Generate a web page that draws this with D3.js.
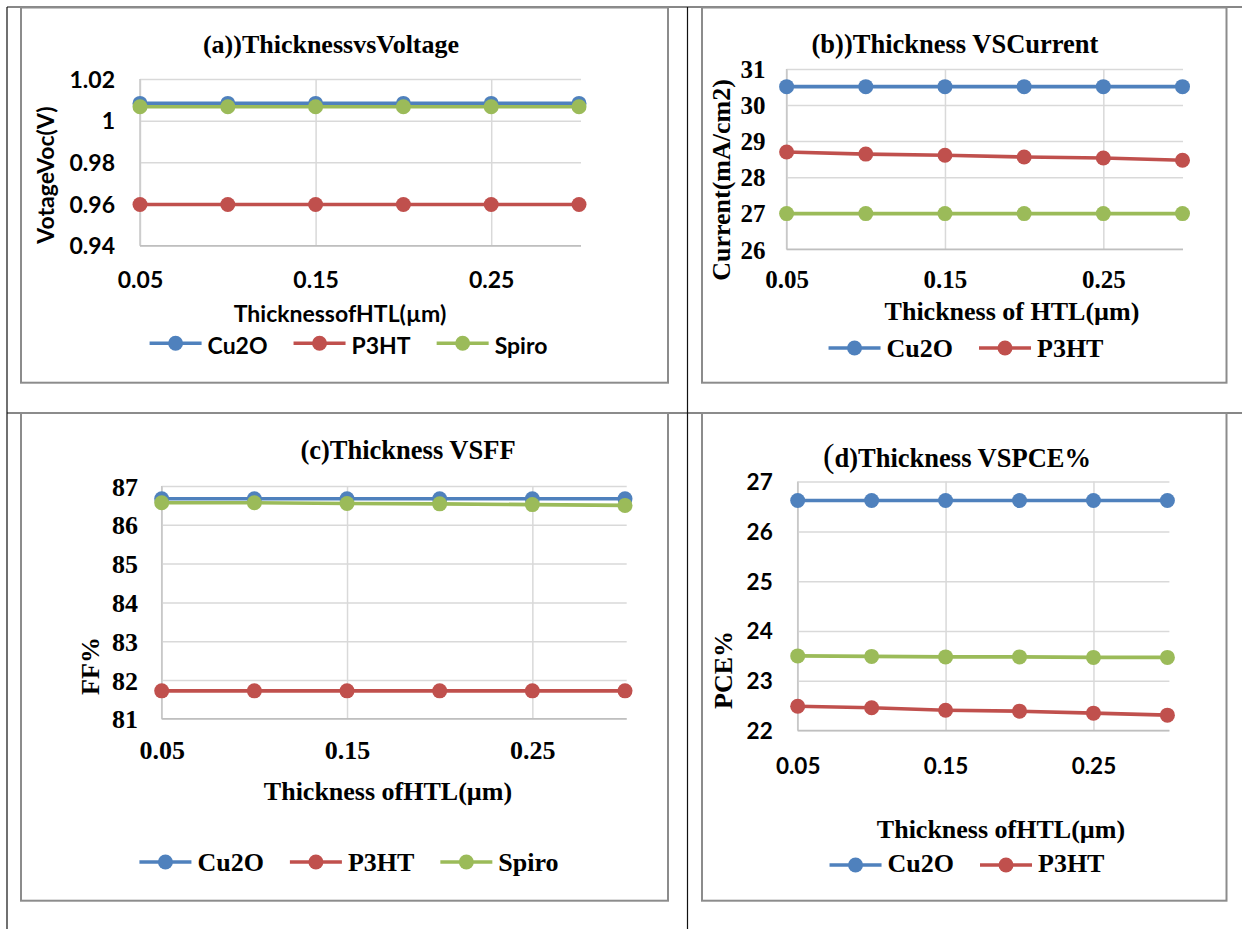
<!DOCTYPE html>
<html>
<head>
<meta charset="utf-8">
<script src="https://cdn.jsdelivr.net/npm/d3@7"></script>
<style>
  body { margin: 0; background: #fff; }
  svg { display: block; }
</style>
</head>
<body>
<svg id="fig" width="1242" height="929"></svg>
<script>
// ---- data ----
const thickness = [0.05, 0.10, 0.15, 0.20, 0.25, 0.30];
const xTickValues = [0.05, 0.15, 0.25];
const xTickLabels = ["0.05", "0.15", "0.25"];

const seriesNames = ["Cu2O", "P3HT", "Spiro"];
const seriesColors = ["#4f81bd", "#c0504d", "#9bbb59"];

// (a) open-circuit voltage, V
const vocCu2O  = [1.0083, 1.0083, 1.0083, 1.0083, 1.0083, 1.0083];
const vocP3HT  = [0.9598, 0.9598, 0.9598, 0.9598, 0.9598, 0.9598];
const vocSpiro = [1.0067, 1.0067, 1.0067, 1.0067, 1.0067, 1.0067];
const vocTicks = [0.94, 0.96, 0.98, 1.00, 1.02];
const vocTickLabels = ["0.94", "0.96", "0.98", "1", "1.02"];

// (b) short-circuit current, mA/cm2
const jscCu2O  = [30.51, 30.51, 30.51, 30.51, 30.51, 30.51];
const jscP3HT  = [28.70, 28.64, 28.61, 28.56, 28.53, 28.47];
const jscSpiro = [26.99, 26.99, 26.99, 26.99, 26.99, 26.99];
const jscTicks = [26, 27, 28, 29, 30, 31];
const jscTickLabels = ["26", "27", "28", "29", "30", "31"];

// (c) fill factor, %
const ffCu2O  = [86.67, 86.67, 86.67, 86.67, 86.67, 86.67];
const ffP3HT  = [81.72, 81.72, 81.72, 81.72, 81.72, 81.72];
const ffSpiro = [86.57, 86.57, 86.55, 86.54, 86.52, 86.50];
const ffTicks = [81, 82, 83, 84, 85, 86, 87];
const ffTickLabels = ["81", "82", "83", "84", "85", "86", "87"];

// (d) power conversion efficiency, %
const pceCu2O  = [26.62, 26.62, 26.62, 26.62, 26.62, 26.62];
const pceP3HT  = [22.49, 22.46, 22.41, 22.39, 22.35, 22.31];
const pceSpiro = [23.50, 23.49, 23.48, 23.48, 23.47, 23.47];
const pceTicks = [22, 23, 24, 25, 26, 27];
const pceTickLabels = ["22", "23", "24", "25", "26", "27"];

// ---- styles ----
const SERIF = "'Liberation Serif', 'Times New Roman', serif";
const SANS = "Lato, 'Open Sans', sans-serif";

const svg = d3.select("#fig");

// table rules behind the chart frames
const rules = svg.append("g").attr("stroke", "#111").attr("stroke-width", 1.2);
rules.append("line").attr("x1", 7).attr("x2", 1242).attr("y1", 7).attr("y2", 7);
rules.append("line").attr("x1", 7).attr("x2", 1242).attr("y1", 413).attr("y2", 413);
rules.append("line").attr("x1", 7).attr("x2", 7).attr("y1", 7).attr("y2", 929);
rules.append("line").attr("x1", 687.5).attr("x2", 687.5).attr("y1", 7).attr("y2", 929);

const panels = [
  {
    frame: [21, 7.5, 668, 382.7],
    title: [{ t: "(a))ThicknessvsVoltage" }], titleX: 331, titleY: 53, titleSize: 26,
    left: 140, right: 581, xEnd: 579, top: 79, bottom: 245.7,
    yDomain: [0.94, 1.02], yTicks: vocTicks, yLabels: vocTickLabels,
    series: [vocCu2O, vocP3HT, vocSpiro],
    tickFont: SANS, tickSize: 23, yPad: 25, xLabelY: 288,
    axisFont: SANS, axisSize: 23,
    xTitle: "ThicknessofHTL(µm)", xTitleX: 340, xTitleY: 322,
    yTitle: "VotageVoc(V)", yTitleX: 54, yTitleY: 175,
    legendFont: SANS, legendSize: 23, legendN: 3, legendCX: 348.5, legendY: 343.3, legendBase: 354
  },
  {
    frame: [702, 7.5, 1226.5, 382.7],
    title: [{ t: "(b))Thickness VSCurrent" }], titleX: 955, titleY: 53, titleSize: 26.5,
    left: 786.6, right: 1183, xEnd: 1182.5, top: 69, bottom: 249.3,
    yDomain: [26, 31], yTicks: jscTicks, yLabels: jscTickLabels,
    series: [jscCu2O, jscP3HT, jscSpiro],
    tickFont: SERIF, tickSize: 25, yPad: 21, xLabelY: 288,
    axisFont: SERIF, axisSize: 26,
    xTitle: "Thickness of HTL(µm)", xTitleX: 1012, xTitleY: 320,
    yTitle: "Current(mA/cm2)", yTitleX: 730, yTitleY: 180,
    legendFont: SERIF, legendSize: 26, legendN: 2, legendCX: 966, legendY: 348, legendBase: 357
  },
  {
    frame: [21, 413, 668, 900.7],
    title: [{ t: "(c)Thickness VSFF" }], titleX: 408, titleY: 459, titleSize: 26.5,
    left: 161.7, right: 626.7, xEnd: 625, top: 486, bottom: 718.8,
    yDomain: [81, 87], yTicks: ffTicks, yLabels: ffTickLabels,
    series: [ffCu2O, ffP3HT, ffSpiro],
    tickFont: SERIF, tickSize: 26, yPad: 23.7, xLabelY: 759,
    axisFont: SERIF, axisSize: 26,
    xTitle: "Thickness ofHTL(µm)", xTitleX: 388, xTitleY: 800,
    yTitle: "FF%", yTitleX: 99, yTitleY: 666,
    legendFont: SERIF, legendSize: 26, legendN: 3, legendCX: 349, legendY: 862, legendBase: 871
  },
  {
    frame: [702, 413, 1226.5, 900.7],
    title: [{ t: "(", big: true }, { t: "d)Thickness VSPCE%" }], titleX: 957, titleY: 467, titleSize: 26.5,
    left: 797.7, right: 1169.4, xEnd: 1167.4, top: 481.6, bottom: 730.6,
    yDomain: [22, 27], yTicks: pceTicks, yLabels: pceTickLabels,
    series: [pceCu2O, pceP3HT, pceSpiro],
    tickFont: SANS, tickSize: 22.5, yPad: 25, xLabelY: 774,
    axisFont: SERIF, axisSize: 26,
    xTitle: "Thickness ofHTL(µm)", xTitleX: 1001, xTitleY: 838,
    yTitle: "PCE%", yTitleX: 732, yTitleY: 670,
    legendFont: SERIF, legendSize: 26, legendN: 2, legendCX: 967, legendY: 865, legendBase: 872
  }
];

function drawPanel(p) {
  const g = svg.append("g");
  const [fx0, fy0, fx1, fy1] = p.frame;
  g.append("rect")
    .attr("x", fx0).attr("y", fy0).attr("width", fx1 - fx0).attr("height", fy1 - fy0)
    .attr("fill", "#fff").attr("stroke", "#8c8c8c").attr("stroke-width", 2);

  const x = d3.scaleLinear().domain([thickness[0], thickness[thickness.length - 1]]).range([p.left, p.xEnd]);
  const y = d3.scaleLinear().domain(p.yDomain).range([p.bottom, p.top]);

  // horizontal gridlines + value labels
  const ya = g.append("g").attr("transform", `translate(${p.left},0)`)
    .call(d3.axisLeft(y).tickValues(p.yTicks)
      .tickFormat((d, i) => p.yLabels[i])
      .tickSize(-(p.right - p.left)).tickPadding(p.yPad));
  ya.select(".domain").remove();
  ya.selectAll("line").attr("stroke", "#d9d9d9").attr("stroke-width", 1.5);
  ya.selectAll("text")
    .attr("font-family", p.tickFont).attr("font-size", p.tickSize)
    .attr("font-weight", "bold").attr("fill", "#000").attr("dy", "0.35em");

  // vertical gridlines + thickness labels
  const xa = g.append("g").attr("transform", `translate(0,${p.bottom})`)
    .call(d3.axisBottom(x).tickValues(xTickValues)
      .tickFormat((d, i) => xTickLabels[i])
      .tickSize(-(p.bottom - p.top)));
  xa.select(".domain").remove();
  xa.selectAll("line").attr("stroke", "#d9d9d9").attr("stroke-width", 1.5);
  xa.selectAll("text")
    .attr("y", p.xLabelY - p.bottom).attr("dy", 0)
    .attr("font-family", p.tickFont).attr("font-size", p.tickSize)
    .attr("font-weight", "bold").attr("fill", "#000");

  // axis lines
  g.append("line").attr("x1", p.left).attr("x2", p.left).attr("y1", p.top).attr("y2", p.bottom)
    .attr("stroke", "#c8c8c8").attr("stroke-width", 1.5);
  g.append("line").attr("x1", p.left).attr("x2", p.right).attr("y1", p.bottom).attr("y2", p.bottom)
    .attr("stroke", "#bfbfbf").attr("stroke-width", 1.5);

  // series
  const line = d3.line().x((d, i) => x(thickness[i])).y(d => y(d));
  p.series.forEach((vals, si) => {
    const sg = g.append("g");
    sg.append("path").attr("d", line(vals)).attr("fill", "none")
      .attr("stroke", seriesColors[si]).attr("stroke-width", 3.6).attr("stroke-linejoin", "round");
    sg.selectAll("circle").data(vals).join("circle")
      .attr("cx", (d, i) => x(thickness[i])).attr("cy", d => y(d)).attr("r", 7.5)
      .attr("fill", seriesColors[si]);
  });

  // title
  const tt = g.append("text").attr("x", p.titleX).attr("y", p.titleY)
    .attr("text-anchor", "middle").attr("font-family", SERIF)
    .attr("font-size", p.titleSize).attr("font-weight", "bold").attr("fill", "#000");
  p.title.forEach(part => {
    const ts = tt.append("tspan").text(part.t);
    if (part.big) ts.attr("font-size", p.titleSize * 1.3).attr("font-weight", "normal");
  });

  // axis titles
  g.append("text").attr("x", p.xTitleX).attr("y", p.xTitleY).attr("text-anchor", "middle")
    .attr("font-family", p.axisFont).attr("font-size", p.axisSize).attr("font-weight", "bold")
    .attr("fill", "#000").text(p.xTitle);
  g.append("text").attr("transform", `translate(${p.yTitleX},${p.yTitleY}) rotate(-90)`)
    .attr("text-anchor", "middle")
    .attr("font-family", p.axisFont).attr("font-size", p.axisSize).attr("font-weight", "bold")
    .attr("fill", "#000").text(p.yTitle);

  // legend
  const lg = g.append("g");
  const sym = 52, gapText = 6, gapEntry = 26;
  const entries = seriesNames.slice(0, p.legendN).map((name, i) => {
    const eg = lg.append("g");
    const txt = eg.append("text").attr("x", sym + gapText).attr("y", p.legendBase - p.legendY)
      .attr("font-family", p.legendFont).attr("font-size", p.legendSize).attr("font-weight", "bold")
      .attr("fill", "#000").text(name);
    eg.append("line").attr("x1", 0).attr("x2", sym).attr("y1", 0).attr("y2", 0)
      .attr("stroke", seriesColors[i]).attr("stroke-width", 3.6);
    eg.append("circle").attr("cx", sym / 2).attr("cy", 0).attr("r", 7.5).attr("fill", seriesColors[i]);
    return { eg, w: sym + gapText + txt.node().getComputedTextLength() };
  });
  const total = d3.sum(entries, e => e.w) + gapEntry * (entries.length - 1);
  let cx = p.legendCX - total / 2;
  entries.forEach(e => {
    e.eg.attr("transform", `translate(${cx},${p.legendY})`);
    cx += e.w + gapEntry;
  });
}

panels.forEach(drawPanel);
</script>
</body>
</html>
